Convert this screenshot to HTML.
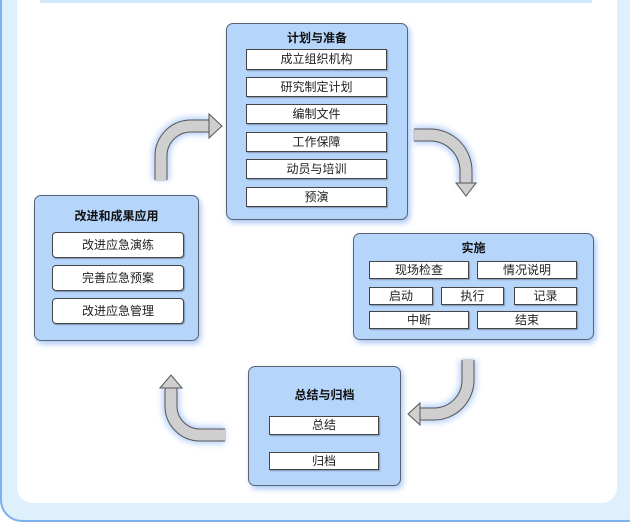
<!DOCTYPE html>
<html><head><meta charset="utf-8"><style>
*{margin:0;padding:0;box-sizing:border-box}
body{width:630px;height:523px;overflow:hidden;background:#fff;font-family:"Liberation Sans","Noto Sans CJK SC",sans-serif;position:relative}
.frame{position:absolute;left:0;top:-30px;width:650px;height:552px;background:#dff0fd;border:2px solid #7fb0ee;border-radius:0 0 22px 22px}
.panel{position:absolute;left:17px;top:-20px;width:600px;height:523px;background:#fff;border-radius:0 0 16px 16px}
.topband{position:absolute;left:40px;top:0;width:552px;height:3px;background:#d3eafc}
.box{position:absolute;background:#b5d5fb;border:1px solid #5a6470;border-radius:7px;box-shadow:2px 3px 6px rgba(110,160,240,.6)}
.t{position:absolute;font-size:12px;font-weight:bold;color:#111;text-align:center;width:100%;left:0}
.i{position:absolute;background:#fff;border:1px solid #444;font-size:12px;color:#222;text-align:center;box-shadow:1px 1px 1px rgba(0,0,0,.3);line-height:19px}
</style></head><body>
<div class="frame"></div>
<div class="panel"></div>
<div class="topband"></div>

<svg width="630" height="523" style="position:absolute;left:0;top:0">
<defs><filter id="g" x="-30%" y="-30%" width="160%" height="160%"><feGaussianBlur stdDeviation="3"/></filter></defs>
<g fill="none" stroke-linejoin="miter">
<g stroke="#a8c8f8" stroke-width="18" filter="url(#g)" opacity=".8">
<path d="M161 180 V156 A30 30 0 0 1 191 126 H210"/>
<path d="M414 135 H430 A36 36 0 0 1 466 171 V184"/>
<path d="M468 360 V380 A34 34 0 0 1 434 414 H420"/>
<path d="M225 435 H200 A29 29 0 0 1 171 406 V388"/>
</g>
<g stroke="#555" stroke-width="13">
<path d="M161 180 V156 A30 30 0 0 1 191 126 H210"/>
<path d="M414 135 H430 A36 36 0 0 1 466 171 V184"/>
<path d="M468 360 V380 A34 34 0 0 1 434 414 H420"/>
<path d="M225 435 H200 A29 29 0 0 1 171 406 V388"/>
</g>
<g stroke="#cfcfcf" stroke-width="11">
<path d="M161 181 V156 A30 30 0 0 1 191 126 H211"/>
<path d="M413 135 H430 A36 36 0 0 1 466 171 V185"/>
<path d="M468 359 V380 A34 34 0 0 1 434 414 H419"/>
<path d="M226 435 H200 A29 29 0 0 1 171 406 V387"/>
</g>
</g>
<g fill="#cfcfcf" stroke="#555" stroke-width="1">
<polygon points="209,114 222,126 209,138"/>
<polygon points="456,183 466,196 476,183"/>
<polygon points="420,403 408,414 420,425"/>
<polygon points="160,388 171,375 182,388"/>
</g>
</svg>

<div class="box" style="left:226px;top:23px;width:182px;height:197px">
<div class="t" style="top:5px">计划与准备</div>
</div>
<div class="i" style="left:246px;top:49px;width:141px;height:21px">成立组织机构</div>
<div class="i" style="left:246px;top:77px;width:141px;height:20px">研究制定计划</div>
<div class="i" style="left:246px;top:104px;width:141px;height:20px">编制文件</div>
<div class="i" style="left:246px;top:132px;width:141px;height:20px">工作保障</div>
<div class="i" style="left:246px;top:159px;width:141px;height:20px">动员与培训</div>
<div class="i" style="left:246px;top:187px;width:141px;height:20px">预演</div>

<div class="box" style="left:34px;top:195px;width:165px;height:146px">
<div class="t" style="top:11px">改进和成果应用</div>
</div>
<div class="i" style="left:52px;top:232px;width:132px;height:26px;line-height:24px;border-radius:4px">改进应急演练</div>
<div class="i" style="left:52px;top:265px;width:132px;height:26px;line-height:24px;border-radius:4px">完善应急预案</div>
<div class="i" style="left:52px;top:298px;width:132px;height:26px;line-height:24px;border-radius:4px">改进应急管理</div>

<div class="box" style="left:353px;top:233px;width:241px;height:107px">
<div class="t" style="top:5px">实施</div>
</div>
<div class="i" style="left:369px;top:261px;width:100px;height:18px;line-height:16px">现场检查</div>
<div class="i" style="left:477px;top:261px;width:100px;height:18px;line-height:16px">情况说明</div>
<div class="i" style="left:369px;top:287px;width:64px;height:18px;line-height:16px">启动</div>
<div class="i" style="left:441px;top:287px;width:63px;height:18px;line-height:16px">执行</div>
<div class="i" style="left:514px;top:287px;width:63px;height:18px;line-height:16px">记录</div>
<div class="i" style="left:369px;top:311px;width:100px;height:18px;line-height:16px">中断</div>
<div class="i" style="left:477px;top:311px;width:100px;height:18px;line-height:16px">结束</div>

<div class="box" style="left:248px;top:366px;width:153px;height:120px">
<div class="t" style="top:19px">总结与归档</div>
</div>
<div class="i" style="left:269px;top:416px;width:110px;height:19px;line-height:17px">总结</div>
<div class="i" style="left:269px;top:452px;width:110px;height:18px;line-height:16px">归档</div>
</body></html>
